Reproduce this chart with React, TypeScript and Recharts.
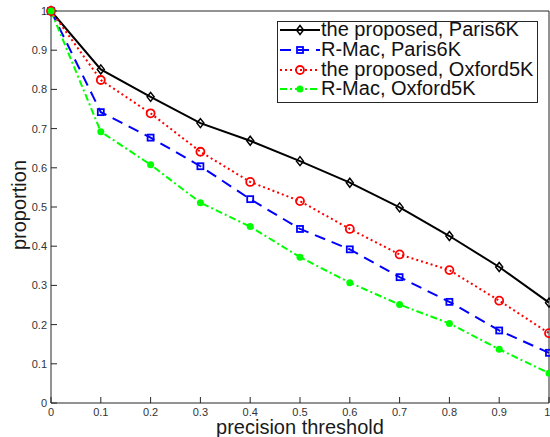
import { Line, LineChart, XAxis, YAxis } from "recharts";

const FONT = "'Liberation Sans', Arial, Helvetica, sans-serif";

// precision threshold on the x axis
const thresholds = [0, 0.1, 0.2, 0.3, 0.4, 0.5, 0.6, 0.7, 0.8, 0.9, 1];

// proportion of queries above each threshold
const proposedParis = [1, 0.851, 0.781, 0.714, 0.669, 0.617, 0.562, 0.499, 0.426, 0.347, 0.256];
const rmacParis = [1, 0.742, 0.677, 0.604, 0.52, 0.444, 0.392, 0.321, 0.258, 0.185, 0.128];
const proposedOxford = [1, 0.824, 0.739, 0.641, 0.564, 0.515, 0.444, 0.379, 0.339, 0.261, 0.178];
const rmacOxford = [1, 0.692, 0.608, 0.511, 0.45, 0.372, 0.307, 0.251, 0.203, 0.137, 0.076];

const xTicks = [0, 0.1, 0.2, 0.3, 0.4, 0.5, 0.6, 0.7, 0.8, 0.9, 1];
const yTicks = [0, 0.1, 0.2, 0.3, 0.4, 0.5, 0.6, 0.7, 0.8, 0.9, 1];

const seriesNames = [
  "the proposed, Paris6K",
  "R-Mac, Paris6K",
  "the proposed, Oxford5K",
  "R-Mac, Oxford5K",
];

const data = thresholds.map((t, i) => ({
  t,
  proposedParis: proposedParis[i],
  rmacParis: rmacParis[i],
  proposedOxford: proposedOxford[i],
  rmacOxford: rmacOxford[i],
}));

const fmt = (v: number) => String(Number(v.toFixed(1)));

type MarkProps = { cx?: number; cy?: number };

function Diamond({ cx = 0, cy = 0 }: MarkProps) {
  return (
    <path
      d={`M${cx},${cy - 4.5}L${cx + 3.5},${cy}L${cx},${cy + 4.5}L${cx - 3.5},${cy}Z`}
      fill="none"
      stroke="#000"
      strokeWidth={1.5}
    />
  );
}

function Square({ cx = 0, cy = 0 }: MarkProps) {
  return <rect x={cx - 3} y={cy - 3} width={6} height={6} fill="none" stroke="#0000ff" strokeWidth={1.8} />;
}

function Ring({ cx = 0, cy = 0 }: MarkProps) {
  return <circle cx={cx} cy={cy} r={4} fill="none" stroke="#ff0000" strokeWidth={1.8} />;
}

function Dot({ cx = 0, cy = 0 }: MarkProps) {
  return <circle cx={cx} cy={cy} r={3.5} fill="#00ff00" stroke="none" />;
}

const styles = [
  { key: "proposedParis", color: "#000000", dash: undefined, Mark: Diamond },
  { key: "rmacParis", color: "#0000ff", dash: "11 7", Mark: Square },
  { key: "proposedOxford", color: "#ff0000", dash: "2 3", Mark: Ring },
  { key: "rmacOxford", color: "#00ff00", dash: "7 3 2 3", Mark: Dot },
];

// eslint-disable-next-line @typescript-eslint/no-explicit-any
function XTitle(props: any) {
  const vb = props.viewBox ?? { x: 51, y: 403, width: 498 };
  return (
    <text x={vb.x + vb.width / 2} y={403 + 31} textAnchor="middle" fontSize={20} fontFamily={FONT} fill="#1a1a1a">
      precision threshold
    </text>
  );
}

// eslint-disable-next-line @typescript-eslint/no-explicit-any
function YTitle(props: any) {
  const vb = props.viewBox ?? { x: 50, y: 11, height: 392 };
  const cx = 26;
  const cy = vb.y + vb.height / 2 - 2;
  return (
    <text
      x={cx}
      y={cy}
      transform={`rotate(-90 ${cx} ${cy})`}
      textAnchor="middle"
      fontSize={20}
      fontFamily={FONT}
      fill="#1a1a1a"
    >
      proportion
    </text>
  );
}

function LegendBox() {
  return (
    <div
      style={{
        position: "absolute",
        left: 277,
        top: 21,
        width: 259,
        height: 80,
        border: "1px solid #262626",
        background: "#fff",
        fontFamily: FONT,
        fontSize: 20,
        color: "#111",
      }}
    >
      {styles.map((s, i) => (
        <div key={s.key} style={{ position: "absolute", left: 0, top: -1.7 + 19.7 * i, height: 19.7, width: 259 }}>
          <svg width={42} height={20} style={{ position: "absolute", left: 1, top: 0 }}>
            <line x1={1} x2={41} y1={10} y2={10} stroke={s.color} strokeWidth={2} strokeDasharray={s.dash} />
            <s.Mark cx={21} cy={10} />
          </svg>
          <span style={{ position: "absolute", left: 43, top: 0, lineHeight: "19.7px", whiteSpace: "nowrap" }}>
            {seriesNames[i]}
          </span>
        </div>
      ))}
    </div>
  );
}

export default function App() {
  const tickStyle = { fill: "#333", fontSize: 11, fontFamily: FONT };
  return (
    <div style={{ position: "absolute", left: 0, top: 0, width: 550, height: 437, background: "#fff" }}>
      <LineChart width={550} height={437} data={data} margin={{ top: 10, right: 0, bottom: 33, left: 50 }}>
        <XAxis
          dataKey="t"
          type="number"
          domain={[0, 1]}
          ticks={xTicks}
          tickFormatter={fmt}
          height={1}
          tickSize={-6}
          tickMargin={11}
          tick={tickStyle}
          axisLine={{ stroke: "#262626" }}
          tickLine={{ stroke: "#262626" }}
          label={<XTitle />}
        />
        <XAxis
          xAxisId="top"
          orientation="top"
          dataKey="t"
          type="number"
          domain={[0, 1]}
          ticks={xTicks}
          height={1}
          tickSize={-5}
          tick={false}
          axisLine={{ stroke: "#262626" }}
          tickLine={{ stroke: "#262626" }}
        />
        <YAxis
          type="number"
          domain={[0, 1]}
          ticks={yTicks}
          tickFormatter={fmt}
          width={1}
          tickSize={-6}
          tickMargin={10}
          tick={tickStyle}
          axisLine={{ stroke: "#262626" }}
          tickLine={{ stroke: "#262626" }}
          label={<YTitle />}
        />
        <YAxis
          yAxisId="right"
          orientation="right"
          type="number"
          domain={[0, 1]}
          ticks={yTicks}
          width={1}
          tickSize={-5}
          tick={false}
          axisLine={{ stroke: "#262626" }}
          tickLine={{ stroke: "#262626" }}
        />
        {styles.map((s) => (
          <Line
            key={s.key}
            dataKey={s.key}
            stroke={s.color}
            strokeWidth={2}
            strokeDasharray={s.dash}
            // eslint-disable-next-line @typescript-eslint/no-explicit-any
            dot={(p: any) => <s.Mark key={`${s.key}-${p.index}`} cx={p.cx} cy={p.cy} />}
            activeDot={false}
            isAnimationActive={false}
          />
        ))}
      </LineChart>
      <LegendBox />
    </div>
  );
}
